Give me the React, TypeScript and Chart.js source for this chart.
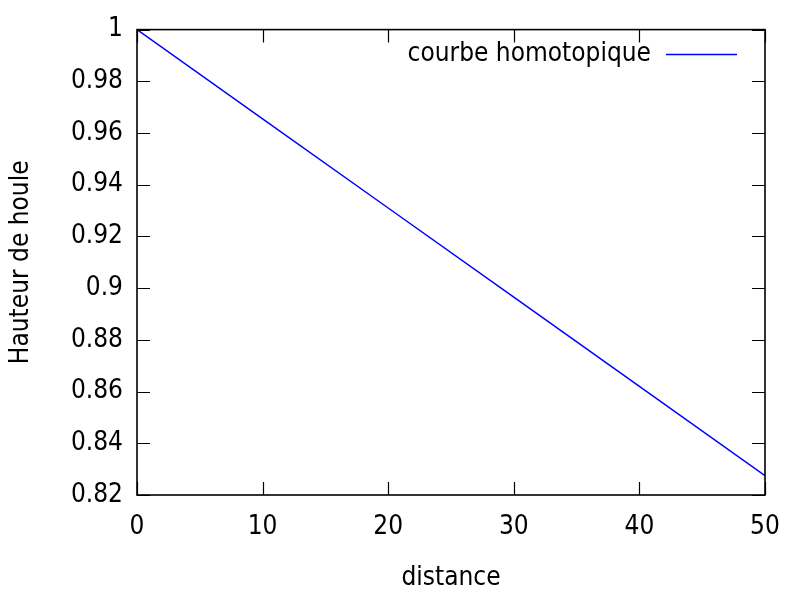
import React, { useEffect, useRef } from "react";
import { Chart, registerables } from "chart.js";

Chart.register(...registerables);

const distances = [0, 10, 20, 30, 40, 50];
const hauteurs = [1.0, 0.9655, 0.931, 0.8965, 0.862, 0.8275];
const seriesLabel = "courbe homotopique";
const xTitle = "distance";
const yTitle = "Hauteur de houle";
const xTicks = [0, 10, 20, 30, 40, 50];
const yTicks = [0.82, 0.84, 0.86, 0.88, 0.9, 0.92, 0.94, 0.96, 0.98, 1];

const FONT = "'DejaVu Sans Condensed', 'DejaVu Sans', sans-serif";
const FONT_SIZE = 26;

const framePlugin = {
  id: "gnuFrame",
  afterDatasetsDraw(chart: any) {
    const { ctx, chartArea } = chart;
    const { left, right, top, bottom } = chartArea;
    const xs = chart.scales.x;
    const ys = chart.scales.y;
    const tl = 13;
    ctx.save();
    ctx.strokeStyle = "#000";
    ctx.lineWidth = 1.2;
    ctx.beginPath();
    for (const v of yTicks) {
      const py = Math.round(ys.getPixelForValue(v)) + 0.5;
      ctx.moveTo(left, py);
      ctx.lineTo(left + tl, py);
      ctx.moveTo(right, py);
      ctx.lineTo(right - tl, py);
    }
    for (const v of xTicks) {
      const px = Math.round(xs.getPixelForValue(v)) + 0.5;
      ctx.moveTo(px, bottom);
      ctx.lineTo(px, bottom - tl);
      ctx.moveTo(px, top);
      ctx.lineTo(px, top + tl);
    }
    ctx.stroke();
    ctx.lineWidth = 1.6;
    ctx.strokeRect(left, top, right - left, bottom - top);

    // legend
    ctx.font = `${FONT_SIZE}px ${FONT}`;
    ctx.fillStyle = "#000";
    ctx.textAlign = "right";
    ctx.textBaseline = "middle";
    const ly = 54;
    ctx.fillText(seriesLabel, 651, ly);
    ctx.strokeStyle = "#0000ff";
    ctx.lineWidth = 1.5;
    ctx.beginPath();
    ctx.moveTo(666, ly + 0.5);
    ctx.lineTo(737, ly + 0.5);
    ctx.stroke();
    ctx.restore();
  },
};

export default function App() {
  const ref = useRef<HTMLCanvasElement | null>(null);

  useEffect(() => {
    if (!ref.current) return;
    const chart = new Chart(ref.current, {
      type: "line",
      data: {
        datasets: [
          {
            label: seriesLabel,
            data: distances.map((d, i) => ({ x: d, y: hauteurs[i] })),
            borderColor: "#0000ff",
            borderWidth: 1.5,
            pointRadius: 0,
            fill: false,
            tension: 0,
          },
        ],
      },
      options: {
        responsive: false,
        animation: false,
        layout: { padding: { top: 25, right: 32, left: 0, bottom: 0 } },
        plugins: {
          legend: { display: false },
          tooltip: { enabled: false },
        },
        scales: {
          x: {
            type: "linear",
            min: 0,
            max: 50,
            grid: { display: false, drawTicks: false },
            border: { display: false },
            afterFit: (s: any) => {
              s.height = 104;
            },
            ticks: {
              stepSize: 10,
              padding: 17,
              color: "#000",
              maxRotation: 0,
              font: { family: FONT, size: FONT_SIZE },
            },
            title: {
              display: true,
              text: xTitle,
              color: "#000",
              padding: { top: 0, bottom: 5 },
              font: { family: FONT, size: FONT_SIZE },
            },
          },
          y: {
            type: "linear",
            min: 0.82,
            max: 1,
            grid: { display: false, drawTicks: false },
            border: { display: false },
            afterFit: (s: any) => {
              s.width = 137;
            },
            afterBuildTicks: (s: any) => {
              s.ticks = yTicks.map((v) => ({ value: v }));
            },
            ticks: {
              padding: 14,
              color: "#000",
              font: { family: FONT, size: FONT_SIZE },
              callback: (v: any) => String(Number(Number(v).toFixed(2))),
            },
            title: {
              display: true,
              text: yTitle,
              color: "#000",
              padding: { top: 6, bottom: 0 },
              font: { family: FONT, size: FONT_SIZE },
            },
          },
        },
      },
      plugins: [framePlugin],
    });
    return () => chart.destroy();
  }, []);

  return (
    <div style={{ position: "fixed", left: 0, top: 0, width: 797, height: 599, background: "#fff" }}>
      <canvas ref={ref} width={797} height={599} style={{ display: "block", width: 797, height: 599 }} />
    </div>
  );
}
